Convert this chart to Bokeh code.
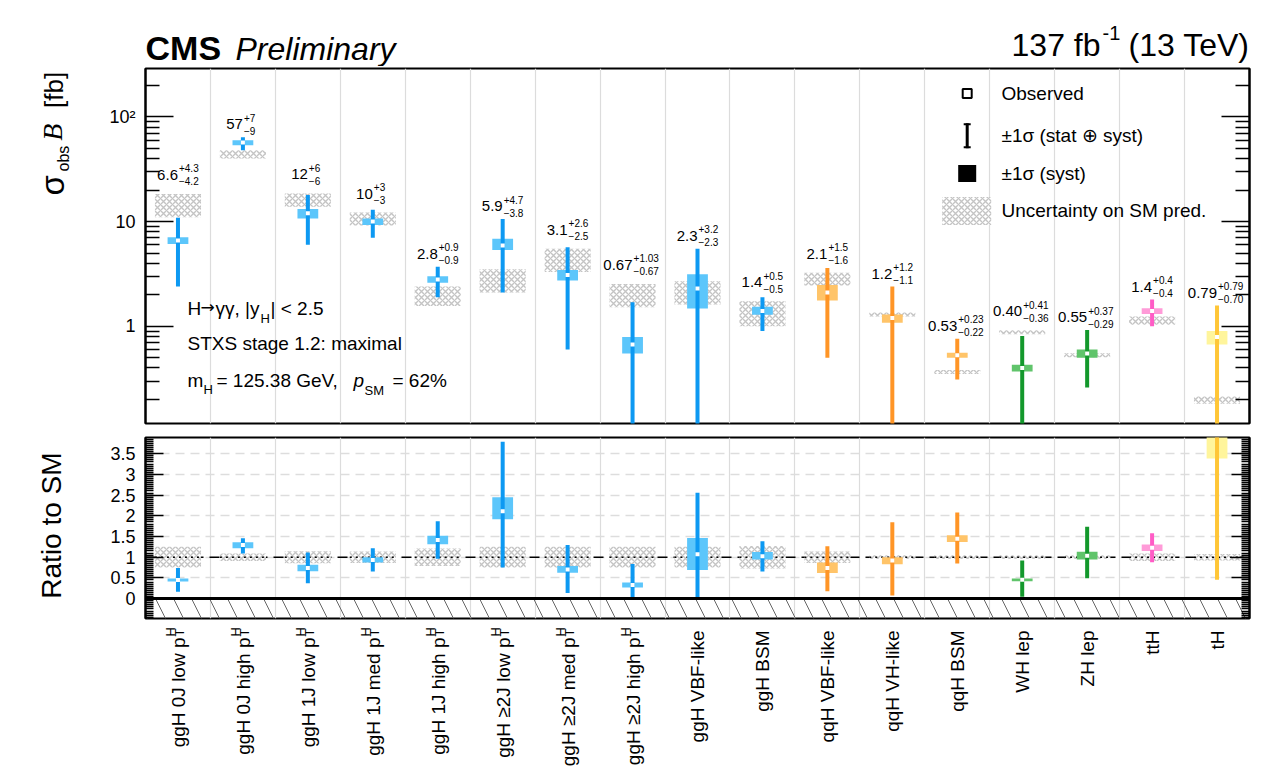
import numpy as np
from math import pi
from bokeh.plotting import figure
from bokeh.layouts import column, row
from bokeh.models import FixedTicker, LogAxis, LinearAxis, Label, Grid, Span, BoxAnnotation
from bokeh.core.properties import value
from bokeh.embed import file_html
from bokeh.resources import INLINE

# ---------------------------------------------------------------- data
bin_names = ["ggH 0J low p", "ggH 0J high p", "ggH 1J low p", "ggH 1J med p",
             "ggH 1J high p", "ggH \u22652J low p", "ggH \u22652J med p", "ggH \u22652J high p",
             "ggH VBF-like", "ggH BSM", "qqH VBF-like", "qqH VH-like", "qqH BSM",
             "WH lep", "ZH lep", "ttH", "tH"]
bin_has_pt = [True] * 8 + [False] * 9
production = ["ggH"] * 10 + ["qqH"] * 3 + ["VH"] * 2 + ["ttH", "tH"]

obs_text = ["6.6", "57", "12", "10", "2.8", "5.9", "3.1", "0.67", "2.3", "1.4",
            "2.1", "1.2", "0.53", "0.40", "0.55", "1.4", "0.79"]
err_up_text = ["4.3", "7", "6", "3", "0.9", "4.7", "2.6", "1.03", "3.2", "0.5",
               "1.5", "1.2", "0.23", "0.41", "0.37", "0.4", "0.79"]
err_dn_text = ["4.2", "9", "6", "3", "0.9", "3.8", "2.5", "0.67", "2.3", "0.5",
               "1.6", "1.1", "0.22", "0.36", "0.29", "0.4", "0.70"]
syst_up = [0.5, 3.0, 1.2, 0.7, 0.2, 0.95, 0.36, 0.12, 0.85, 0.14,
           0.38, 0.10, 0.03, 0.03, 0.05, 0.09, 0.11]
syst_dn = [0.5, 3.5, 1.3, 0.7, 0.2, 0.53, 0.36, 0.12, 0.82, 0.11,
           0.34, 0.12, 0.03, 0.03, 0.05, 0.09, 0.12]
sm_xsec = [14.7, 44.0, 16.2, 10.7, 1.98, 2.8, 4.4, 2.03, 2.15, 1.37,
           2.85, 1.30, 0.366, 0.88, 0.53, 1.14, 0.198]
sm_rel_unc = [0.25, 0.09, 0.145, 0.14, 0.21, 0.25, 0.25, 0.25, 0.25, 0.27,
              0.14, 0.045, 0.045, 0.045, 0.045, 0.09, 0.08]

bar_colors = {"ggH": "#0d99f2", "qqH": "#ff9526", "VH": "#13982c", "ttH": "#ff5cc6", "tH": "#ffc637"}
box_colors = {"ggH": "#5cc6fb", "qqH": "#ffc469", "VH": "#60c46b", "ttH": "#ff9bd8", "tH": "#fff59c"}

# ---------------------------------------------------------------- derived arrays
n = len(bin_names)
xc = np.arange(n) + 0.5
obs = np.array([float(s) for s in obs_text])
eup = np.array([float(s) for s in err_up_text])
edn = np.array([float(s) for s in err_dn_text])
sup = np.array(syst_up)
sdn = np.array(syst_dn)
sm = np.array(sm_xsec)
smu = np.array(sm_rel_unc)
bar_col = [bar_colors[g] for g in production]
box_col = [box_colors[g] for g in production]

FONT = "Liberation Sans"
Y_LO, Y_HI = 0.118, 290.0
R_LO, R_HI = -0.48, 3.89
BAND_HW = 0.355
BOX_HW = 0.16
HATCH = dict(hatch_pattern="x", hatch_scale=6, hatch_weight=1.4, hatch_color="#c4c4c4")

PANEL_W = 1167      # panels share the right part of the page
SIDE_W = 1267 - PANEL_W


def make_panel(height, top, bottom, y_range, y_axis_type):
    p = figure(width=PANEL_W, height=height, x_range=(0, n), y_range=y_range,
               x_axis_type=None, y_axis_type=y_axis_type, toolbar_location=None,
               output_backend="svg", min_border_left=45, min_border_right=18,
               min_border_top=top, min_border_bottom=bottom)
    p.outline_line_color = "black"
    p.outline_line_width = 2
    p.outline_line_alpha = 1
    p.background_fill_color = "white"
    p.border_fill_color = "white"
    p.add_layout(Grid(dimension=0, ticker=FixedTicker(ticks=list(range(1, n))),
                      grid_line_color="#dcdcdc", grid_line_width=1.2), "center")
    return p


def make_canvas(width, height, x_range, y_range):
    # plain drawing area used for text around the panels (y grows downwards)
    c = figure(width=width, height=height, x_range=x_range, y_range=y_range,
               x_axis_type=None, y_axis_type=None, toolbar_location=None,
               output_backend="svg", min_border=0)
    c.outline_line_color = None
    c.background_fill_color = "white"
    c.border_fill_color = "white"
    return c


def style_axis(ax, ticker, overrides, major_in, minor_in, show):
    ax.ticker = ticker
    ax.major_tick_in = major_in
    ax.major_tick_out = 0
    ax.minor_tick_in = minor_in
    ax.minor_tick_out = 0
    ax.major_tick_line_color = "black"
    ax.minor_tick_line_color = "black"
    ax.major_tick_line_width = 1.5
    ax.minor_tick_line_width = 1.5
    ax.axis_line_color = "black"
    ax.axis_line_width = 2
    ax.major_label_overrides = overrides
    ax.major_label_text_font = FONT
    if show:
        ax.major_label_text_font_size = "18px"
        ax.major_label_standoff = 10
        ax.major_label_text_color = "black"
    else:
        ax.major_label_text_font_size = "1px"
        ax.major_label_standoff = 0
        ax.major_label_text_color = None


def lab(p, text, x, y, size, units="screen", **kw):
    opts = dict(x=x, y=y, x_units=units, y_units=units, text=text,
                text_font=FONT, text_font_size=f"{size}px", text_color="black",
                text_baseline="middle")
    opts.update(kw)
    p.add_layout(Label(**opts))


# ================================================================ header
hdr = make_canvas(1267, 66, (0, 1267), (66, 0))
lab(hdr, "CMS", 145, 47.5, 34, units="data", text_font_style="bold")
lab(hdr, "Preliminary", 235, 48.5, 32, units="data", text_font_style="italic")
lab(hdr, "(13 TeV)", 1249, 44, 32, units="data", text_align="right")
lab(hdr, "137 fb", 1100, 44, 32, units="data", text_align="right")
lab(hdr, "-1", 1102, 32, 20, units="data")

# ================================================================ top panel
p1 = make_panel(369, 2, 12, (Y_LO, Y_HI), "log")
p1.ygrid.visible = False

log_major = [1, 10, 100]
log_minor = [m * d for d in (0.1, 1, 10, 100) for m in range(2, 10) if Y_LO < m * d < Y_HI]
log_labels = {1: "1", 10: "10", 100: "10\u00b2"}
style_axis(p1.yaxis[0], FixedTicker(ticks=log_major, minor_ticks=log_minor), log_labels, 28, 14, True)
right1 = LogAxis()
style_axis(right1, FixedTicker(ticks=log_major, minor_ticks=log_minor), {t: "" for t in log_major}, 28, 14, False)
p1.add_layout(right1, "right")

# SM prediction bands
p1.quad(left=xc - BAND_HW, right=xc + BAND_HW, bottom=sm * (1 - smu), top=sm * (1 + smu),
        fill_color="white", fill_alpha=0, line_color=None, **HATCH)
# systematic boxes
p1.quad(left=xc - BOX_HW, right=xc + BOX_HW, bottom=obs - sdn, top=obs + sup,
        fill_color=box_col, line_color=None)
# total uncertainty bars
p1.segment(x0=xc, x1=xc, y0=np.maximum(obs - edn, Y_LO * 0.5), y1=obs + eup,
           line_color=bar_col, line_width=4, line_cap="butt")
# observed values
p1.scatter(xc, obs, marker="square", size=4, fill_color="white", line_color=None)

# value labels, floated above the error bar or the SM band, whichever is higher
lab_y = np.maximum((obs + eup) * 1.33, sm * (1 + smu) * 1.52)
p1.text(x=xc, y=lab_y, text=obs_text, text_align="right", text_baseline="middle",
        text_font=value(FONT), text_font_size="15px", text_color="black")
p1.text(x=xc, y=lab_y, text=["+" + s for s in err_up_text], x_offset=1, y_offset=-6.5,
        text_align="left", text_baseline="middle",
        text_font=value(FONT), text_font_size="10px", text_color="black")
p1.text(x=xc, y=lab_y, text=["\u2212" + s for s in err_dn_text], x_offset=1, y_offset=6.5,
        text_align="left", text_baseline="middle",
        text_font=value(FONT), text_font_size="10px", text_color="black")

# analysis info
lab(p1, "H", 42, 115.3, 19)
lab(p1, "\u2192", 55, 116.3, 17, text_font="DejaVu Sans")
lab(p1, "\u03b3\u03b3, |y", 70, 115.3, 19)
lab(p1, "H", 115, 105.3, 13)
lab(p1, "| < 2.5", 125, 115.3, 19)
lab(p1, "STXS stage 1.2: maximal", 42, 80, 19)
lab(p1, "m", 42, 43.3, 19)
lab(p1, "H", 58, 34.3, 13)
lab(p1, "= 125.38 GeV,", 71, 43.3, 19)
lab(p1, "p", 208, 43.3, 19, text_font_style="italic")
lab(p1, "SM", 219, 33, 13)
lab(p1, "= 62%", 247, 43.3, 19)

# legend
LX, LT = 821.7, 856
rows = [330, 288.3, 250, 212.6]
for yy, txt in zip(rows, ["Observed", "\u00b11\u03c3 (stat \u2295 syst)", "\u00b11\u03c3 (syst)",
                          "Uncertainty on SM pred."]):
    lab(p1, txt, LT, yy, 19)


def sbox(p, l, r, b, t, **kw):
    opts = dict(left=l, right=r, bottom=b, top=t, left_units="screen", right_units="screen",
                bottom_units="screen", top_units="screen", fill_color="black", fill_alpha=1,
                line_color=None)
    opts.update(kw)
    p.add_layout(BoxAnnotation(**opts))


sbox(p1, LX - 4.5, LX + 4.5, rows[0] - 4.5, rows[0] + 4.5, fill_color="white", line_color="black",
     line_width=2, line_alpha=1)
sbox(p1, LX - 1.5, LX + 1.5, rows[1] - 13, rows[1] + 12)
sbox(p1, LX - 3.5, LX + 3.5, rows[1] + 10, rows[1] + 12)
sbox(p1, LX - 3.5, LX + 3.5, rows[1] - 13, rows[1] - 11)
sbox(p1, LX - 9, LX + 9, rows[2] - 8.5, rows[2] + 8.5)
sbox(p1, LX - 25, LX + 24, rows[3] - 14, rows[3] + 14, fill_color="white", **HATCH)

# y title of the top panel
yt1 = make_canvas(SIDE_W, 369, (0, SIDE_W), (435, 66))
lab(yt1, "\u03c3", 52, 198, 33, units="data", angle=pi / 2, text_align="left")
lab(yt1, "obs", 63, 173, 16, units="data", angle=pi / 2, text_align="left")
lab(yt1, "B", 52, 141, 28, units="data", angle=pi / 2, text_align="left",
    text_font="Liberation Serif", text_font_style="italic")
lab(yt1, "[fb]", 53, 107, 26, units="data", angle=pi / 2, text_align="left")

# ================================================================ ratio panel
p2 = make_panel(185, 2, 2, (R_LO, R_HI), "linear")

r_major = [0, 0.5, 1, 1.5, 2, 2.5, 3, 3.5]
r_minor = [round(v, 2) for v in np.arange(-0.45, 3.86, 0.05)]
r_labels = {t: f"{t:g}" for t in r_major}
style_axis(p2.yaxis[0], FixedTicker(ticks=r_major, minor_ticks=r_minor), r_labels, 18, 8, True)
right2 = LinearAxis()
style_axis(right2, FixedTicker(ticks=r_major, minor_ticks=r_minor), {t: "" for t in r_major}, 18, 8, False)
p2.add_layout(right2, "right")
p2.ygrid.ticker = FixedTicker(ticks=r_major)
p2.ygrid.grid_line_color = "#dddddd"
p2.ygrid.grid_line_dash = "9 6"
p2.ygrid.grid_line_width = 1.5

p2.add_layout(BoxAnnotation(top=0, fill_alpha=0, line_color=None, level="underlay",
                            hatch_pattern="\\", hatch_scale=36, hatch_weight=1,
                            hatch_color="#666666"))
p2.add_layout(Span(location=1, dimension="width", line_color="black", line_width=1.5,
                   line_dash="10 6", level="underlay"))

ratio = obs / sm
p2.quad(left=xc - BAND_HW, right=xc + BAND_HW, bottom=1 - smu, top=1 + smu,
        fill_color="white", fill_alpha=1, line_color=None, **HATCH)
p2.segment(x0=xc - BAND_HW, x1=xc + BAND_HW, y0=np.ones(n), y1=np.ones(n),
           line_color="black", line_width=1.5, line_dash="2 4")
p2.quad(left=xc - BOX_HW, right=xc + BOX_HW, bottom=(obs - sdn) / sm, top=(obs + sup) / sm,
        fill_color=box_col, line_color=None)
p2.segment(x0=xc, x1=xc, y0=np.maximum(obs - edn, 0) / sm, y1=(obs + eup) / sm,
           line_color=bar_col, line_width=4, line_cap="butt")
p2.scatter(xc, ratio, marker="square", size=4, fill_color="white", line_color=None)
p2.add_layout(Span(location=0, dimension="width", line_color="black", line_width=3))

yt2 = make_canvas(SIDE_W, 185, (0, SIDE_W), (620, 435))
lab(yt2, "Ratio to SM", 51, 525, 28, units="data", angle=pi / 2, text_align="center")

# ================================================================ category labels
cat = make_canvas(PANEL_W, 159, (0, n), (779, 620))
cat.min_border_left = 45
cat.min_border_right = 18
pt_idx = [i for i in range(n) if bin_has_pt[i]]
no_pt_idx = [i for i in range(n) if not bin_has_pt[i]]
txt_style = dict(angle=pi / 2, text_baseline="middle", text_font=value(FONT), text_color="black")
cat.text(x=xc[pt_idx], y=[637] * len(pt_idx), text=[bin_names[i] for i in pt_idx],
         text_align="right", x_offset=1, text_font_size="19px", **txt_style)
cat.text(x=xc[pt_idx], y=[636] * len(pt_idx), text=["H"] * len(pt_idx),
         text_align="left", x_offset=-7, text_font_size="13px", **txt_style)
cat.text(x=xc[pt_idx], y=[636] * len(pt_idx), text=["T"] * len(pt_idx),
         text_align="left", x_offset=2, text_font_size="13px", **txt_style)
cat.text(x=xc[no_pt_idx], y=[630] * len(no_pt_idx), text=[bin_names[i] for i in no_pt_idx],
         text_align="right", x_offset=0, text_font_size="19px", **txt_style)

corner = make_canvas(SIDE_W, 159, (0, SIDE_W), (779, 620))

layout = column(hdr, row(yt1, p1), row(yt2, p2), row(corner, cat))
open("out.html", "w").write(file_html(layout, INLINE))
